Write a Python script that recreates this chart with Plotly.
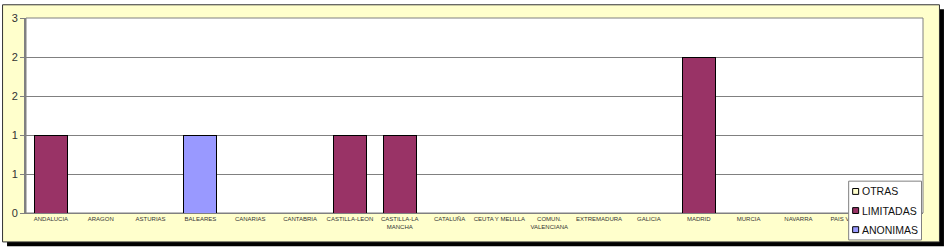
import plotly.graph_objects as go

categories = ["ANDALUCIA", "ARAGON", "ASTURIAS", "BALEARES", "CANARIAS", "CANTABRIA",
              "CASTILLA-LEON", "CASTILLA-LA<br>MANCHA", "CATALUÑA", "CEUTA Y MELILLA",
              "COMUN.<br>VALENCIANA", "EXTREMADURA", "GALICIA", "MADRID", "MURCIA",
              "NAVARRA", "PAIS VASCO", "LA RIOJA"]
anonimas = [0, 0, 0, 1, 0, 0, 0, 0, 0, 0, 0, 0, 0, 0, 0, 0, 0, 0]
limitadas = [1, 0, 0, 0, 0, 0, 1, 1, 0, 0, 0, 0, 0, 2, 0, 0, 0, 0]
otras = [0] * 18
series_names = ["ANONIMAS", "LIMITADAS", "OTRAS"]
series_colors = ["#9999FF", "#993366", "#FFFFCC"]
tick_vals = [0, 0.5, 1, 1.5, 2, 2.5]
tick_text = ["0", "1", "1", "2", "2", "3"]

W, H = 944, 247
L, R, T, B = 24, 923, 14, 213  # plot area in pixels


def px(x):
    return (x - L) / (R - L)


def py(y):
    return (B - y) / (B - T)


fig = go.Figure()
for name, vals, col in zip(series_names, [anonimas, limitadas, otras], series_colors):
    fig.add_trace(go.Bar(x=categories, y=vals, name=name,
                         marker=dict(color=col, line=dict(color="#000000", width=1)),
                         showlegend=False))

shapes = [
    # shadow
    dict(type="rect", xref="paper", yref="paper", x0=px(5), x1=px(944), y0=py(5), y1=py(247),
         fillcolor="#000000", line=dict(width=0), layer="below"),
    # frame
    dict(type="rect", xref="paper", yref="paper", x0=px(0.5), x1=px(939.5), y0=py(0.5), y1=py(242.5),
         fillcolor="#FFFFCC", line=dict(color="#333333", width=1), layer="below"),
    # plot area
    dict(type="rect", xref="paper", yref="paper", x0=0, x1=1, y0=0, y1=1,
         fillcolor="#FFFFFF", line=dict(color="#808080", width=1), layer="below"),
    # legend box
    dict(type="rect", xref="paper", yref="paper", x0=px(848.5), x1=px(921.5), y0=py(180.5), y1=py(240.5),
         fillcolor="#FFFFFF", line=dict(color="#808080", width=1), layer="above"),
]
annotations = []
legend_items = list(zip(series_names, series_colors))[::-1]
for i, (name, col) in enumerate(legend_items):
    yc = 191 + i * 19.5
    shapes.append(dict(type="rect", xref="paper", yref="paper", x0=px(852.5), x1=px(858.5),
                       y0=py(yc - 3), y1=py(yc + 3), fillcolor=col,
                       line=dict(color="#000000", width=1), layer="above"))
    annotations.append(dict(xref="paper", yref="paper", x=px(859.5), y=py(yc), text=name,
                            showarrow=False, xanchor="left", yanchor="middle",
                            font=dict(family="Arial", size=10.5, color="#111111")))

fig.update_layout(
    width=W, height=H,
    margin=dict(l=L, r=W - R, t=T, b=H - B, pad=0),
    barmode="stack", bargap=0.34,
    paper_bgcolor="#FFFFFF", plot_bgcolor="rgba(0,0,0,0)",
    shapes=shapes, annotations=annotations,
    showlegend=False,
    xaxis=dict(showgrid=False, showline=True, linecolor="#808080", linewidth=1,
               ticks="", tickfont=dict(family="Arial", size=6, color="#333333"),
               tickangle=0, fixedrange=True),
    yaxis=dict(range=[0, 2.5], tickvals=tick_vals, ticktext=tick_text,
               showgrid=True, gridcolor="#808080", gridwidth=1,
               showline=True, linecolor="#808080", linewidth=2,
               ticks="outside", ticklen=4, tickcolor="#808080",
               tickfont=dict(family="Arial", size=11, color="#333333"),
               zeroline=False, fixedrange=True),
)

fig.write_html("out.html", config={"displayModeBar": False})
